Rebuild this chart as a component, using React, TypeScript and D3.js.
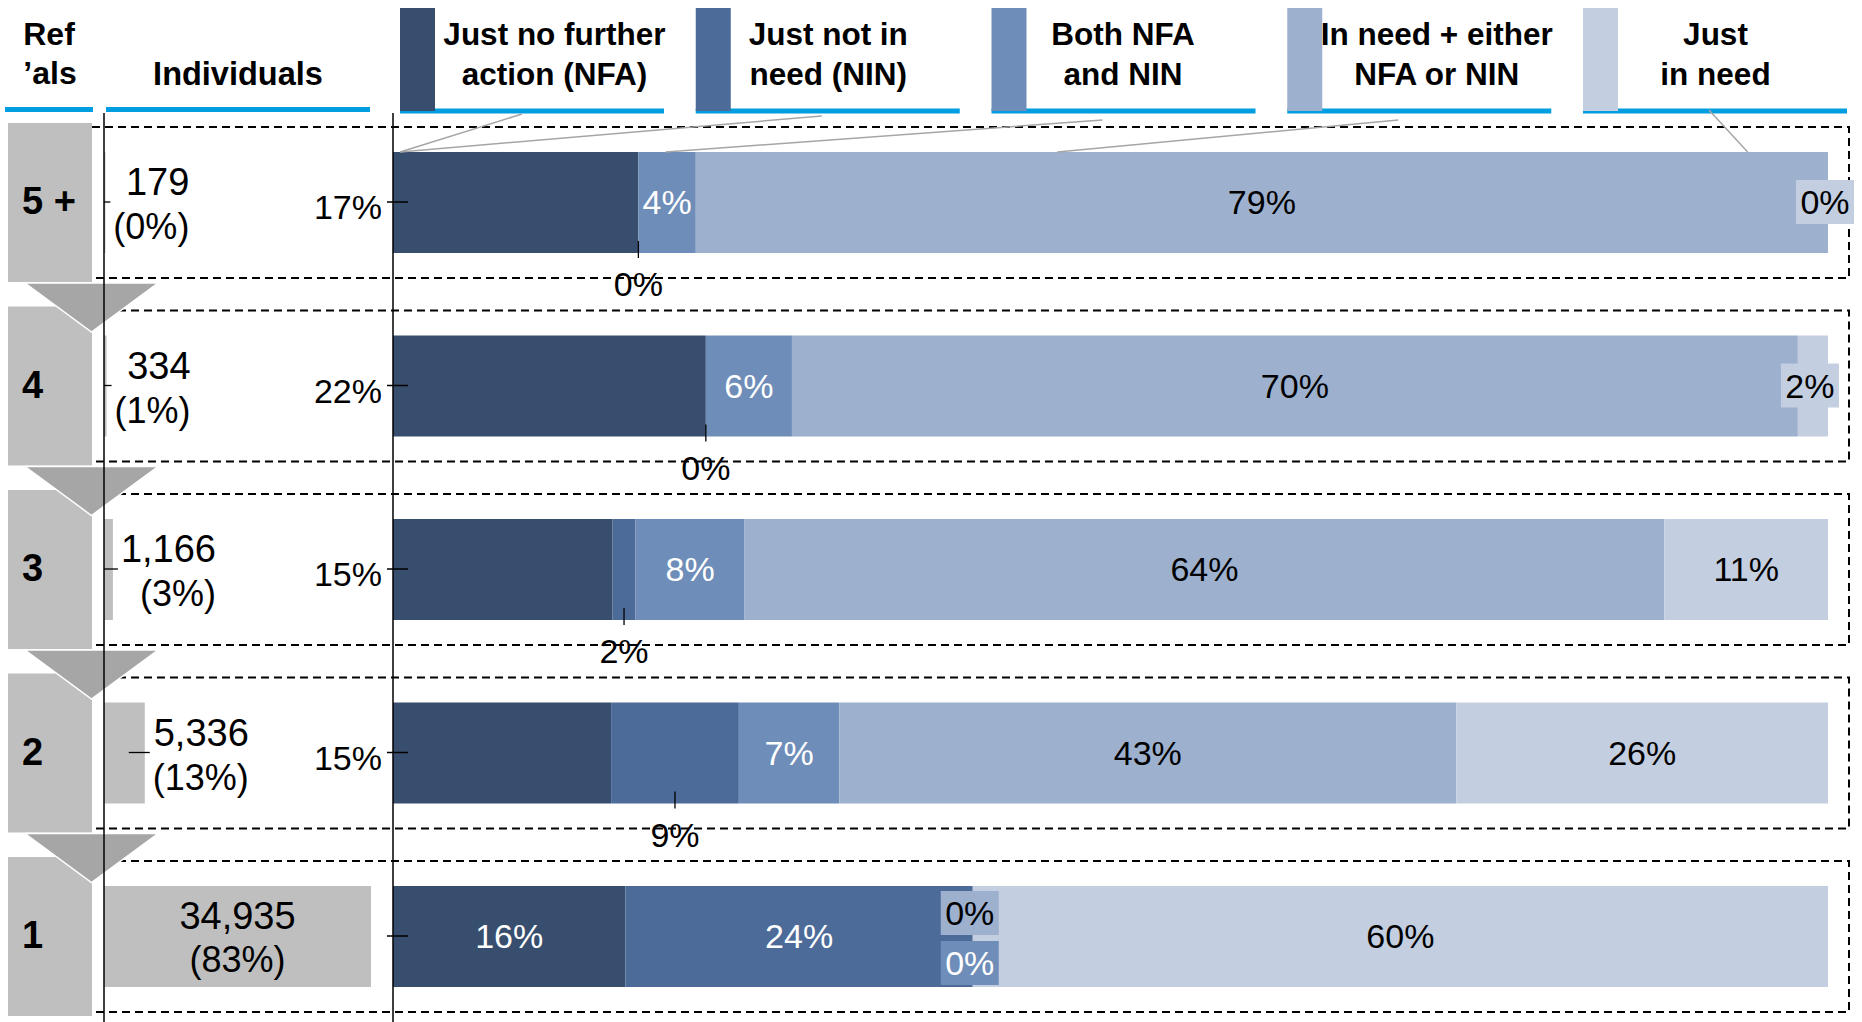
import React from 'react';
import * as d3 from 'd3';

// ---------- data ----------
const rows = ['5 +', '4', '3', '2', '1'];
const individuals = [179, 334, 1166, 5336, 34935];
const individualsShare = [0, 1, 3, 13, 83];
const seriesKeys = ['nfa', 'nin', 'both', 'either', 'just'];
const legendLines = [
  ['Just no further', 'action (NFA)'],
  ['Just not in', 'need (NIN)'],
  ['Both NFA', 'and NIN'],
  ['In need + either', 'NFA or NIN'],
  ['Just', 'in need'],
];
const nfa = [17.1, 21.8, 15.3, 15.2, 16.2];
const nin = [0, 0, 1.6, 8.9, 24.2];
const both = [4.0, 6.0, 7.6, 7.0, 0];
const either = [78.9, 70.1, 64.1, 43.0, 0];
const justNeed = [0, 2.1, 11.4, 25.9, 59.6];
// where each label sits (per row, per series)
const placement = [
  ['left', 'below', 'in', 'in', 'box'],
  ['left', 'below', 'in', 'in', 'box'],
  ['left', 'below', 'in', 'in', 'in'],
  ['left', 'below', 'in', 'in', 'in'],
  ['in', 'in', 'boxDown', 'boxUp', 'in'],
];
// legend leader lines point at these % positions on the top bar
const leaderTargets = [0.5, 0.5, 19, 46.3, 94.4];

// ---------- style / layout ----------
const W = 1862, H = 1022;
const colors = ['#384e6e', '#4c6b99', '#6e8db8', '#9db0ce', '#c3cee0'];
const textOn = ['#ffffff', '#ffffff', '#ffffff', '#000000', '#000000'];
const BLUE = '#009ee0';
const FONT = '"Liberation Sans", Arial, sans-serif';
const BAR_TOP = 50, BAR_BOT = 51;
const legendDx = [5, -17, -18, 0, -17];
const leaderFrom = [[122, 114], [126, 116], [111, 120], [111, 120], [126, 110]];
const COUNT_FS = 38, SHARE_FS = 36;

let ctx: CanvasRenderingContext2D | null = null;
function measure(t: string, size: number) {
  if (!ctx) ctx = document.createElement('canvas').getContext('2d');
  if (!ctx) return t.length * size * 0.55;
  ctx.font = `${size}px ${FONT}`;
  return ctx.measureText(t).width;
}

export default function App() {
  const x = d3.scaleLinear().domain([0, 100]).range([393, 1828]);
  const y = d3.scalePoint<string>().domain(rows).range([202, 936]);
  const xi = d3.scaleLinear().domain([0, 34935]).range([104, 371]);

  const table = rows.map((r, i) => ({
    row: r, nfa: nfa[i], nin: nin[i], both: both[i], either: either[i], just: justNeed[i],
  }));
  const stacked = d3.stack<any>().keys(seriesKeys)(table);
  const fmtPct = (v: number) => `${Math.round(v)}%`;
  const fmtN = d3.format(',');

  const legendLeft = (i: number) => 400 + i * 295.75;

  return (
    <div style={{ position: 'absolute', left: 0, top: 0 }}>
      <svg width={W} height={H} style={{ display: 'block', fontFamily: FONT }}>
        <rect width={W} height={H} fill="#fff" />

        {/* dashed row frames */}
        {rows.map((r) => {
          const c = y(r)!;
          return (
            <path key={'d' + r} d={`M92,${c - 75}H1849V${c + 76}H92`} fill="none"
              stroke="#000" strokeWidth={2} strokeDasharray="8,5" />
          );
        })}

        {/* header */}
        <text x={49} y={45} fontSize={32} fontWeight="bold" textAnchor="middle">Ref</text>
        <text x={50} y={84} fontSize={32} fontWeight="bold" textAnchor="middle">’als</text>
        <rect x={5} y={107} width={88} height={5} fill={BLUE} />
        <text x={238} y={85} fontSize={32.5} fontWeight="bold" textAnchor="middle">Individuals</text>
        <rect x={106} y={107} width={264} height={5} fill={BLUE} />

        {/* legend */}
        {legendLines.map((lines, i) => {
          const l = legendLeft(i);
          const cx = l + 35 + (264 - 35) / 2 + legendDx[i];
          return (
            <g key={'lg' + i}>
              <rect x={l} y={108.5} width={264} height={5} fill={BLUE} />
              <rect x={l} y={8} width={35} height={103} fill={colors[i]} />
              <text x={cx} y={45} fontSize={31.5} fontWeight="bold" textAnchor="middle">{lines[0]}</text>
              <text x={cx} y={85} fontSize={31.5} fontWeight="bold" textAnchor="middle">{lines[1]}</text>
            </g>
          );
        })}

        {/* stacked bars */}
        {stacked.map((s, si) => (
          <g key={'s' + si}>
            {s.map((d, ri) => {
              const c = y(rows[ri])!;
              return (
                <rect key={ri} x={x(d[0])} y={c - BAR_TOP} width={Math.max(0, x(d[1]) - x(d[0]))}
                  height={BAR_TOP + BAR_BOT} fill={colors[si]} />
              );
            })}
          </g>
        ))}

        {/* legend leader lines */}
        {leaderTargets.map((t, i) => (
          <line key={'ll' + i} x1={legendLeft(i) + leaderFrom[i][0]} y1={leaderFrom[i][1]}
            x2={x(t)} y2={y(rows[0])! - BAR_TOP} stroke="#a6a6a6" strokeWidth={1.5} />
        ))}

        {/* individuals bars */}
        {individuals.map((v, i) => {
          const c = y(rows[i])!;
          return <rect key={'ib' + i} x={xi(0)} y={c - BAR_TOP} width={xi(v) - xi(0)}
            height={BAR_TOP + BAR_BOT} fill="#bfbfbf" />;
        })}

        {/* ref'als boxes and arrows */}
        {rows.map((r) => {
          const c = y(r)!;
          return <rect key={'rb' + r} x={8} y={c - 79} width={84} height={159} fill="#bfbfbf" />;
        })}
        {rows.slice(0, -1).map((r) => {
          const top = y(r)! + 81;
          return (
            <path key={'tri' + r} d={`M25,${top}L158,${top}L91.5,${top + 49}Z`} fill="#a6a6a6"
              stroke="#fff" strokeWidth={1.5} />
          );
        })}
        {rows.map((r) => (
          <text key={'rl' + r} x={22} y={y(r)! + 12} fontSize={38} fontWeight="bold">{r}</text>
        ))}

        {/* axes */}
        <line x1={104} y1={113} x2={104} y2={H} stroke="#000" strokeWidth={1.5} />
        <line x1={393} y1={113} x2={393} y2={H} stroke="#000" strokeWidth={1.5} />
        {rows.map((r) => (
          <line key={'tk' + r} x1={387} x2={408} y1={y(r)!} y2={y(r)!} stroke="#000" strokeWidth={1.5} />
        ))}

        {/* individuals labels */}
        {individuals.map((v, i) => {
          const c = y(rows[i])!;
          const l1 = fmtN(v);
          const l2 = `(${individualsShare[i]}%)`;
          const end = xi(v);
          if (i === rows.length - 1) {
            const cx = (xi(0) + end) / 2;
            return (
              <g key={'il' + i}>
                <text x={cx} y={c - 7} fontSize={COUNT_FS} textAnchor="middle">{l1}</text>
                <text x={cx} y={c + 36} fontSize={SHARE_FS} textAnchor="middle">{l2}</text>
              </g>
            );
          }
          const mw = Math.max(measure(l1, COUNT_FS), measure(l2, SHARE_FS));
          const rx = end + 8 + mw;
          return (
            <g key={'il' + i}>
              <line x1={Math.max(104, end - 16)} x2={end + 5} y1={c} y2={c} stroke="#000" strokeWidth={1.3} />
              <text x={rx} y={c - 7} fontSize={COUNT_FS} textAnchor="end">{l1}</text>
              <text x={rx} y={c + 37} fontSize={SHARE_FS} textAnchor="end">{l2}</text>
            </g>
          );
        })}

        {/* percentage labels */}
        {stacked.map((s, si) => s.map((d, ri) => {
          const c = y(rows[ri])!;
          const v = d[1] - d[0];
          const label = fmtPct(v);
          const mid = (x(d[0]) + x(d[1])) / 2;
          const p = placement[ri][si];
          const k = `pl${si}-${ri}`;
          if (p === 'left') {
            return <text key={k} x={382} y={c + 17} fontSize={34} textAnchor="end">{label}</text>;
          }
          if (p === 'in') {
            return <text key={k} x={mid} y={c + 12} fontSize={34} textAnchor="middle" fill={textOn[si]}>{label}</text>;
          }
          if (p === 'below') {
            const bb = c + BAR_BOT;
            return (
              <g key={k}>
                <line x1={mid} x2={mid} y1={bb - 12} y2={bb + 5} stroke="#000" strokeWidth={1.3} />
                <text x={mid} y={bb + 43} fontSize={34} textAnchor="middle">{label}</text>
              </g>
            );
          }
          const cy = p === 'boxUp' ? c - 23 : p === 'boxDown' ? c + 27 : c;
          const cx = mid - 3;
          return (
            <g key={k}>
              <rect x={cx - 29} y={cy - 22} width={58} height={44} fill={colors[si]} />
              <text x={cx} y={cy + 12} fontSize={34} textAnchor="middle" fill={textOn[si]}>{label}</text>
            </g>
          );
        }))}
      </svg>
    </div>
  );
}
